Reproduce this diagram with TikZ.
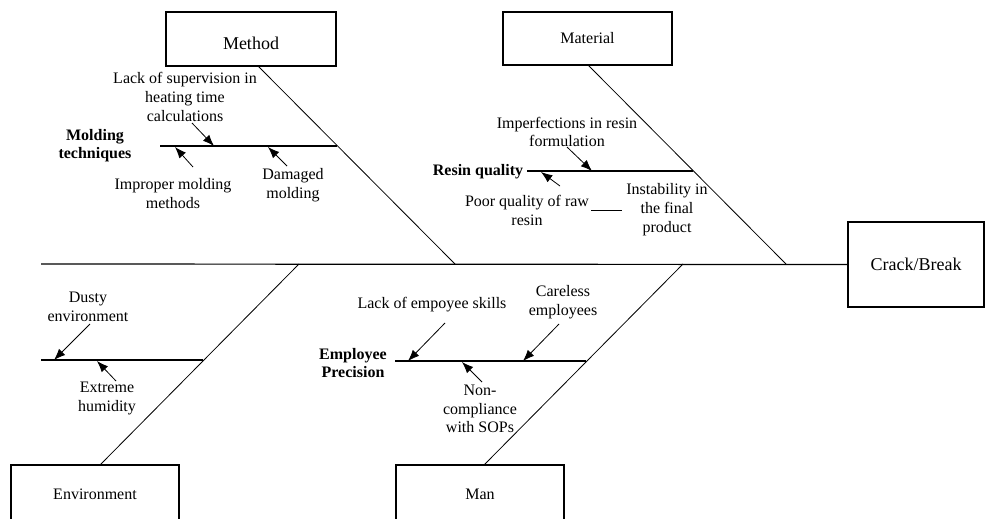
\documentclass[tikz,border=0pt]{standalone}
\usepackage{fontspec}
\setmainfont{Liberation Serif}
\usetikzlibrary{arrows.meta}
\begin{document}
\begin{tikzpicture}[x=0.75pt,y=-0.75pt,
  box/.style={draw,line width=0.9pt,inner sep=0pt,font=\fontsize{12}{14}\selectfont},
  lbl/.style={align=center,inner sep=0pt,font=\fontsize{12}{14}\selectfont},
  blbl/.style={lbl,font=\fontsize{12}{14}\selectfont\bfseries},
  bone/.style={line width=0.9pt},
  diag/.style={line width=0.6pt},
  cause/.style={line width=0.6pt,-{Latex[length=8.5pt,width=6.5pt]}}]
\clip (0,0) rectangle (985,518);
% boxes
\node[box,minimum width=127.5pt,minimum height=40.5pt,text height=16pt,text depth=0pt,font=\fontsize{13.5}{16}\selectfont] (method) at (251,39) {Method};
\node[box,minimum width=126.75pt,minimum height=39.75pt] (material) at (587.5,38.5) {Material};
\node[box,minimum width=126pt,minimum height=48pt,text height=8pt,text depth=4.5pt] (environment) at (95,497) {Environment};
\node[box,minimum width=126pt,minimum height=48pt,text height=8pt,text depth=4.5pt] (man) at (480,497) {Man};
\node[box,minimum width=102pt,minimum height=63.75pt,font=\fontsize{13.5}{16}\selectfont] (crack) at (916,264.5) {Crack/Break};
% spine
\coordinate (tail) at (41,264);
\draw[bone] (tail) -- (crack.west);
% main bones
\coordinate (mt) at (258,66);   \coordinate (ms) at (455,264);
\coordinate (mat) at (588,65);  \coordinate (mas) at (786,264);
\coordinate (et) at (100,465);  \coordinate (es) at (299,264);
\coordinate (nt) at (484,465);  \coordinate (ns) at (683,264);
\draw[diag] (mt) -- (ms);
\draw[diag] (mat) -- (mas);
\draw[diag] (et) -- (es);
\draw[diag] (nt) -- (ns);
% sub-bones
\coordinate (mo1) at (160,146); \coordinate (mo2) at (337,146);
\coordinate (rq1) at (527,171); \coordinate (rq2) at (693,171);
\coordinate (en1) at (41,360);  \coordinate (en2) at (203,360);
\coordinate (ep1) at (395,361); \coordinate (ep2) at (586,361);
\draw[bone] (mo1) -- (mo2);
\draw[bone] (rq1) -- (rq2);
\draw[bone] (en1) -- (en2);
\draw[bone] (ep1) -- (ep2);
% labels
\node[lbl] (lsup) at (185,97) {Lack of supervision in\\heating time\\calculations};
\node[blbl] (molding) at (95,145.5) {Molding\\techniques};
\node[lbl] (improper) at (173,193.5) {Improper molding\\methods};
\node[lbl] (damaged) at (293,185) {Damaged\\molding};
\node[blbl] (resin) at (478,172) {Resin quality};
\node[lbl] (imperf) at (567,132) {Imperfections in resin\\formulation};
\node[lbl] (poor) at (527,210.5) {Poor quality of raw\\resin};
\node[lbl] (instab) at (667,209.5) {Instability in\\the final\\product};
\node[lbl] (dusty) at (88,307) {Dusty\\environment};
\node[lbl] (extreme) at (107,398.5) {Extreme\\humidity};
\node[lbl] (lskill) at (432,305) {Lack of empoyee skills};
\node[lbl] (careless) at (563,302) {Careless\\employees};
\node[blbl] (emp) at (353,363) {Employee\\Precision};
\node[lbl] (noncomp) at (480,409) {Non-\\compliance\\with SOPs};
% cause arrows
\coordinate (a1s) at (192,123); \coordinate (a1e) at (214,146);
\coordinate (a2s) at (193,167); \coordinate (a2e) at (175,147);
\coordinate (a3s) at (287,166); \coordinate (a3e) at (268,147);
\coordinate (a4s) at (567,147); \coordinate (a4e) at (592,171);
\coordinate (a5s) at (560,186); \coordinate (a5e) at (541,172);
\coordinate (a6s) at (90,324);  \coordinate (a6e) at (54,360);
\coordinate (a7s) at (116,381); \coordinate (a7e) at (97,361);
\coordinate (a8s) at (445,323); \coordinate (a8e) at (408,361);
\coordinate (a9s) at (559,324); \coordinate (a9e) at (523,361);
\coordinate (a10s) at (482,382); \coordinate (a10e) at (462,362);
\draw[cause] (a1s) -- (a1e);
\draw[cause] (a2s) -- (a2e);
\draw[cause] (a3s) -- (a3e);
\draw[cause] (a4s) -- (a4e);
\draw[cause] (a5s) -- (a5e);
\draw[cause] (a6s) -- (a6e);
\draw[cause] (a7s) -- (a7e);
\draw[cause] (a8s) -- (a8e);
\draw[cause] (a9s) -- (a9e);
\draw[cause] (a10s) -- (a10e);
% short plain line
\coordinate (sl1) at (591,210); \coordinate (sl2) at (622,210);
\draw[diag] (sl1) -- (sl2);
\end{tikzpicture}
\end{document}
